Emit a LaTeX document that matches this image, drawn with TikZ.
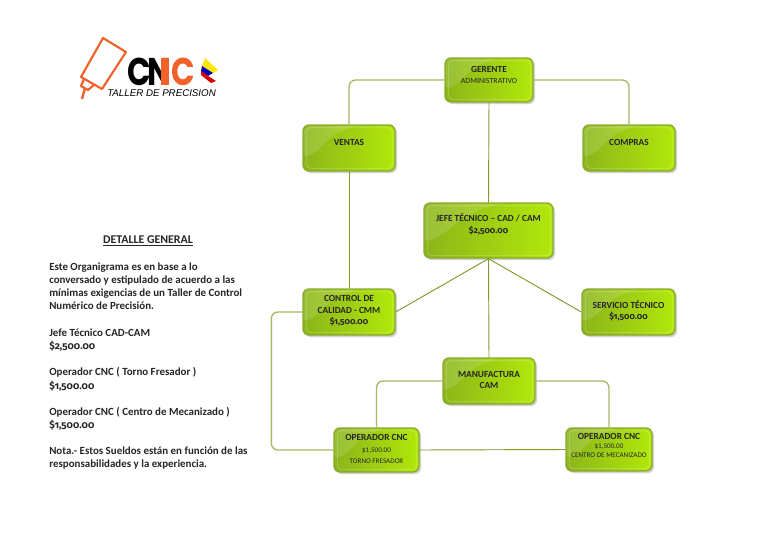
\documentclass[tikz,border=0pt]{standalone}
\usepackage{fontspec}
\setmainfont{Carlito}
\newfontfamily\oldn[Numbers=OldStyle,Scale=0.92]{Fira Sans}
\newfontfamily\logofont{Liberation Sans}
\newfontfamily\heavyfont{Poppins}
\usetikzlibrary{calc}
\definecolor{boxdark}{HTML}{8BB51A}
\definecolor{boxlight}{HTML}{B2E80A}
\definecolor{boxedge}{HTML}{8AA82C}
\definecolor{linkdark}{HTML}{7F9A2C}
\definecolor{linklight}{HTML}{A3BB62}
\definecolor{logoorange}{HTML}{F0622A}
\newcommand{\smalltxt}{\fontsize{5.9}{7.5}\selectfont\mdseries}
\newcommand{\tinytxt}{\fontsize{5.35}{7.5}\selectfont\mdseries}
\tikzset{
  x=0.75pt,y=-0.75pt,
  orgbox/.style={
    rounded corners=4.5pt,draw=boxedge,line width=1pt,
    shade,shading angle=135,left color=boxdark,right color=boxlight,
    inner sep=0pt,
    path picture={
      \fill[white,opacity=.13]
        (path picture bounding box.north west) --
        ($(path picture bounding box.north west)!.62!(path picture bounding box.north east)$)
        .. controls ($(path picture bounding box.north west)!.45!(path picture bounding box.center)$)
        and ($(path picture bounding box.west)!.5!(path picture bounding box.center)$)
        .. ($(path picture bounding box.north west)!.72!(path picture bounding box.south west)$) -- cycle;
      \draw[white,opacity=.28,line width=.5pt,rounded corners=3pt]
        ($(path picture bounding box.south west)+(2.5pt,2pt)$) rectangle
        ($(path picture bounding box.north east)+(-2pt,-2pt)$);
    }},
  boxlabel/.style={align=center,font=\fontsize{7}{8.6}\selectfont\bfseries,text=black!85,inner sep=0pt},
  boxshadow/.style={fill=black!18,rounded corners=4.5pt,draw=none},
  linkmain/.style={draw=linkdark,line width=.7pt},
  linksoft/.style={draw=linklight,line width=1pt,rounded corners=5pt},
  bodytext/.style={anchor=base west,font=\fontsize{8.2}{9}\selectfont\bfseries,text=black!85,inner sep=0pt},
  logoletter/.style={inner sep=0pt,anchor=base west,font=\fontsize{29}{29}\selectfont\heavyfont\bfseries}
}
% name, x1, y1, x2, y2, text offset, text
\newcommand{\gbox}[7]{%
  \fill[boxshadow] (#2+2,#3+2) rectangle (#4+2,#5+2);
  \node[orgbox,minimum width=#4*0.75pt-#2*0.75pt,minimum height=#5*0.75pt-#3*0.75pt] (#1) at ({(#2+#4)/2},{(#3+#5)/2}) {};
  \node[boxlabel] (#1t) at ({(#2+#4)/2},{(#3+#5)/2+#6}) {#7};
}
\begin{document}
\begin{tikzpicture}
\useasboundingbox (0,0) rectangle (768,543);
\fill[white] (0,0) rectangle (768,543);
% logo
\draw[logoorange,line width=1.6pt,line join=round] (103,38) -- (126,52) -- (102,89) -- (81,77) -- cycle;
\draw[logoorange,line width=1.6pt,line join=round] (84,79) -- (81,86) -- (88,90) -- (94,85);
\draw[logoorange,line width=1.8pt] (85,88) -- (82,99);
\node[logoletter] (lc1) at (127,85) {\scalebox{.8}[1]{\textcolor{black}{C}}};
\node[logoletter] (ln) at (147,85) {\scalebox{.8}[1]{\textcolor{black}{N}}};
\node[logoletter] (lc2) at (171,85) {\scalebox{.8}[1]{\textcolor{logoorange}{C}}};
\fill[logoorange] (161,58) -- (169,58) -- (169,85) -- (161,85) -- cycle;
\fill[yellow!90!orange] (205,58) -- (218,70) -- (213,73) -- (202,66) -- cycle;
\fill[blue!70!black] (202,66) -- (213,73) -- (208,76) -- (201,71) -- cycle;
\fill[red!85!black] (201,71) -- (208,76) -- (216,81) -- (211,83) -- (201,75) -- cycle;
\node[inner sep=0pt,anchor=base west,font=\fontsize{7.3}{9}\selectfont\logofont\itshape] (ltxt) at (107,96) {TALLER DE PRECISION};
% boxes
\gbox{ger}{445}{58}{533}{102}{-5}{GERENTE\\[-1pt]{\smalltxt ADMINISTRATIVO}}
\gbox{ven}{303}{125}{395}{171}{-6}{VENTAS}
\gbox{com}{583}{125}{675}{171}{-6}{COMPRAS}
\gbox{jef}{424}{203}{553}{258}{-6}{JEFE TÉCNICO – CAD / CAM\\[.5pt]{\oldn\$2,500.00}}
\gbox{con}{303}{289}{395}{335}{-1}{CONTROL DE\\CALIDAD - CMM\\{\oldn\$1,500.00}}
\gbox{ser}{582}{289}{675}{335}{-1}{SERVICIO TÉCNICO\\{\oldn\$1,500.00}}
\gbox{man}{443}{358}{535}{404}{-1}{MANUFACTURA\\CAM}
\gbox{opa}{334}{428}{419}{472}{-1}{OPERADOR CNC\\[0pt]{\tinytxt\$1,500.00}\\[0pt]{\tinytxt TORNO FRESADOR}}
\gbox{opb}{566}{428}{652}{471}{-4}{OPERADOR CNC\\[-2pt]{\tinytxt\$1,500.00}\\[-2pt]{\tinytxt CENTRO DE MECANIZADO}}
% connectors
\draw[linksoft] (ger.west) -| (ven.north);
\draw[linksoft] (ger.east) -| (com.north);
\draw[linkmain] (ger.south) -- (jef.north);
\draw[linkmain] (ven.south) -- (con.north);
\draw[linkmain] (jef.south) -- (con.east);
\draw[linkmain] (jef.south) -- (ser.west);
\draw[linkmain] (jef.south) -- (man.north);
\draw[linksoft] (con.west) -- ++(-31,0) |- (opa.west);
\draw[linksoft] (man.west) -| (opa.north);
\draw[linksoft] (man.east) -| (opb.north);
\draw[linkmain] (opa.east) -- (opb.west);
% text
\node[inner sep=0pt,anchor=base,font=\fontsize{8.9}{9}\selectfont\bfseries,text=black!85] (title) at (148,243) {\underline{DETALLE GENERAL}};
\node[bodytext] (t1) at (49,270) {Este Organigrama es en base a lo};
\node[bodytext] (t2) at (49,283) {conversado y estipulado de acuerdo a las};
\node[bodytext] (t3) at (49,296) {mínimas exigencias de un Taller de Control};
\node[bodytext] (t4) at (49,309) {Numérico de Precisión.};
\node[bodytext] (t5) at (49,336) {Jefe Técnico CAD-CAM};
\node[bodytext] (t6) at (49,349) {\oldn\$2,500.00};
\node[bodytext] (t7) at (49,375) {Operador CNC ( Torno Fresador )};
\node[bodytext] (t8) at (49,389) {\oldn\$1,500.00};
\node[bodytext] (t9) at (49,415) {Operador CNC ( Centro de Mecanizado )};
\node[bodytext] (t10) at (49,428) {\oldn\$1,500.00};
\node[bodytext] (t11) at (49,454) {Nota.- Estos Sueldos están en función de las};
\node[bodytext] (t12) at (49,467) {responsabilidades y la experiencia.};
\end{tikzpicture}
\end{document}
